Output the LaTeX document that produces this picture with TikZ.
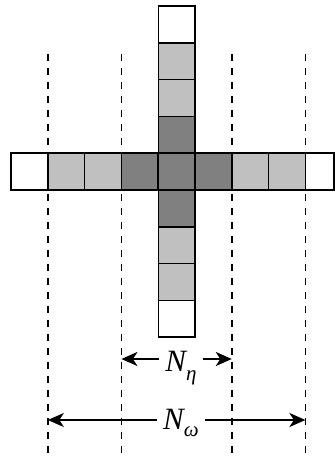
\documentclass[tikz,border=0pt]{standalone}
\usepackage{fontspec}
\setmainfont{Liberation Serif}
\usetikzlibrary{arrows.meta}
\definecolor{lightcell}{HTML}{C0C0C0}
\definecolor{darkcell}{HTML}{808080}
\begin{document}
\begin{tikzpicture}[x=1pt,y=-1pt,
  cell/.style={draw=black, line width=1.7pt, minimum size=36.8pt, inner sep=0pt, outer sep=0pt},
  wcell/.style={cell, fill=white},
  lcell/.style={cell, fill=lightcell},
  dcell/.style={cell, fill=darkcell},
  guide/.style={line width=1.7pt, dash pattern=on 7pt off 7pt},
  dimarrow/.style={line width=2.2pt, -{Stealth[length=16pt,width=14pt,inset=4.5pt]}},
  dimlabel/.style={inner xsep=6pt, inner ysep=0pt, anchor=base,
    font=\fontsize{31}{31}\selectfont\itshape}]
\useasboundingbox (0,0) rectangle (335,456);
% dashed guides
\foreach \x/\n in {47.8/g1,121.4/g2,231.8/g3,305.4/g4}{
  \coordinate (\n top) at (\x,54);
  \coordinate (\n bot) at (\x,456);
  \draw[guide] (\n top) -- (\n bot);
}
% horizontal row
\foreach \i/\s in {0/wcell,1/lcell,2/lcell,3/dcell,4/dcell,5/dcell,6/lcell,7/lcell}{
  \node[\s] (r\i) at ({11+36.8*\i+18.4},171.6) {};
}
\node[wcell, minimum width=28.6pt] (r8) at ({305.4+14.3},171.6) {};
% vertical column
\foreach \j/\s in {0/wcell,1/lcell,2/lcell,3/dcell,5/dcell,6/lcell,7/lcell,8/wcell}{
  \node[\s] (c\j) at (176.8,{6+36.8*\j+18.4}) {};
}
% N_eta
\node[dimlabel] (neta) at (181,371) {N\raisebox{-9pt}{\fontsize{21}{21}\selectfont η}};
\coordinate (etaL) at (121.4,359);
\coordinate (etaR) at (231.8,359);
\draw[dimarrow] (etaL -| neta.west) -- (etaL);
\draw[dimarrow] (etaR -| neta.east) -- (etaR);
% N_omega
\node[dimlabel] (nomega) at (181,429) {N\raisebox{-7pt}{\fontsize{21}{21}\selectfont ω}};
\coordinate (omL) at (47.8,420);
\coordinate (omR) at (305.4,420);
\draw[dimarrow] (omL -| nomega.west) -- (omL);
\draw[dimarrow] (omR -| nomega.east) -- (omR);
\end{tikzpicture}
\end{document}
